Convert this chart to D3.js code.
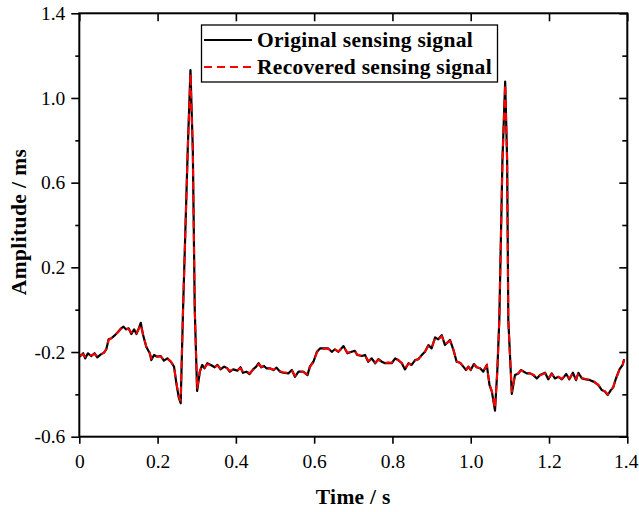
<!DOCTYPE html>
<html>
<head>
<meta charset="utf-8">
<script src="https://cdn.jsdelivr.net/npm/d3@7"></script>
<style>
  body { margin: 0; background: #fff; }
  svg text { font-family: "Liberation Serif", "DejaVu Serif", serif; fill: #000; }
</style>
</head>
<body>
<svg></svg>
<script>
// time stamps (s)
var times = [0.001, 0.010, 0.015, 0.022, 0.031, 0.039, 0.046, 0.055, 0.063, 0.069,
  0.075, 0.082, 0.089, 0.097, 0.107, 0.113, 0.119, 0.126, 0.133, 0.140,
  0.146, 0.152, 0.157, 0.163, 0.171, 0.180, 0.184, 0.191, 0.199, 0.208,
  0.216, 0.225, 0.234, 0.242, 0.248, 0.254, 0.259, 0.265, 0.277, 0.284,
  0.290, 0.295, 0.301, 0.308, 0.314, 0.320, 0.327, 0.336, 0.346, 0.353,
  0.361, 0.370, 0.378, 0.384, 0.393, 0.404, 0.412, 0.418, 0.427, 0.435,
  0.444, 0.452, 0.458, 0.465, 0.472, 0.478, 0.487, 0.496, 0.504, 0.513,
  0.521, 0.534, 0.543, 0.551, 0.560, 0.572, 0.583, 0.589, 0.598, 0.607,
  0.615, 0.623, 0.636, 0.645, 0.653, 0.662, 0.675, 0.685, 0.696, 0.704,
  0.710, 0.722, 0.730, 0.738, 0.747, 0.756, 0.764, 0.773, 0.781, 0.790,
  0.798, 0.807, 0.815, 0.824, 0.832, 0.841, 0.849, 0.858, 0.866, 0.875,
  0.883, 0.892, 0.900, 0.909, 0.917, 0.926, 0.934, 0.947, 0.956, 0.964,
  0.973, 0.981, 0.988, 0.994, 1.000, 1.008, 1.015, 1.024, 1.032, 1.041,
  1.048, 1.054, 1.062, 1.068, 1.073, 1.081, 1.088, 1.093, 1.096, 1.105,
  1.113, 1.122, 1.128, 1.136, 1.143, 1.152, 1.160, 1.169, 1.177, 1.190,
  1.198, 1.207, 1.215, 1.224, 1.233, 1.244, 1.252, 1.261, 1.269, 1.275,
  1.284, 1.295, 1.305, 1.315, 1.326, 1.335, 1.343, 1.350, 1.358, 1.364,
  1.371, 1.380, 1.388, 1.392];

// original sensing signal (ms)
var original = [-0.222, -0.206, -0.230, -0.206, -0.219, -0.206, -0.225, -0.211, -0.203, -0.187,
  -0.140, -0.135, -0.124, -0.109, -0.088, -0.080, -0.093, -0.088, -0.115, -0.093,
  -0.115, -0.088, -0.062, -0.120, -0.175, -0.206, -0.238, -0.214, -0.222, -0.219,
  -0.241, -0.230, -0.246, -0.269, -0.348, -0.414, -0.442, -0.002, 0.754, 1.132,
  0.754, -0.002, -0.384, -0.293, -0.261, -0.277, -0.253, -0.261, -0.272, -0.261,
  -0.282, -0.269, -0.277, -0.293, -0.282, -0.288, -0.272, -0.298, -0.293, -0.304,
  -0.282, -0.269, -0.253, -0.272, -0.266, -0.277, -0.277, -0.285, -0.274, -0.293,
  -0.298, -0.301, -0.285, -0.317, -0.293, -0.293, -0.309, -0.269, -0.246, -0.199,
  -0.183, -0.183, -0.183, -0.199, -0.187, -0.199, -0.172, -0.206, -0.199, -0.194,
  -0.214, -0.219, -0.214, -0.246, -0.230, -0.253, -0.234, -0.246, -0.253, -0.251,
  -0.253, -0.230, -0.238, -0.253, -0.282, -0.253, -0.261, -0.238, -0.234, -0.214,
  -0.199, -0.167, -0.183, -0.131, -0.140, -0.120, -0.167, -0.143, -0.191, -0.246,
  -0.251, -0.269, -0.285, -0.269, -0.285, -0.257, -0.272, -0.277, -0.293, -0.261,
  -0.356, -0.387, -0.477, -0.285, -0.049, 0.707, 1.077, 0.707, -0.049, -0.398,
  -0.309, -0.301, -0.285, -0.293, -0.301, -0.301, -0.309, -0.325, -0.309, -0.298,
  -0.329, -0.301, -0.325, -0.317, -0.329, -0.304, -0.329, -0.298, -0.333, -0.298,
  -0.325, -0.329, -0.333, -0.341, -0.356, -0.380, -0.387, -0.403, -0.380, -0.367,
  -0.325, -0.282, -0.261, -0.234];

// recovered sensing signal (ms)
var recovered = [-0.218, -0.210, -0.222, -0.210, -0.215, -0.210, -0.220, -0.211, -0.203, -0.185,
  -0.143, -0.135, -0.124, -0.110, -0.090, -0.085, -0.090, -0.092, -0.108, -0.098,
  -0.110, -0.090, -0.070, -0.118, -0.172, -0.205, -0.230, -0.216, -0.220, -0.221,
  -0.236, -0.232, -0.245, -0.268, -0.345, -0.410, -0.432, -0.005, 0.750, 1.115,
  0.750, -0.005, -0.375, -0.290, -0.265, -0.274, -0.258, -0.262, -0.270, -0.264,
  -0.278, -0.271, -0.277, -0.289, -0.283, -0.286, -0.276, -0.294, -0.292, -0.300,
  -0.285, -0.272, -0.258, -0.270, -0.267, -0.276, -0.278, -0.283, -0.277, -0.290,
  -0.296, -0.298, -0.288, -0.312, -0.295, -0.294, -0.305, -0.272, -0.248, -0.202,
  -0.186, -0.184, -0.185, -0.196, -0.189, -0.197, -0.176, -0.203, -0.199, -0.196,
  -0.212, -0.218, -0.216, -0.242, -0.232, -0.250, -0.237, -0.245, -0.251, -0.250,
  -0.251, -0.233, -0.239, -0.252, -0.276, -0.256, -0.259, -0.240, -0.234, -0.216,
  -0.200, -0.170, -0.180, -0.135, -0.140, -0.125, -0.162, -0.148, -0.190, -0.244,
  -0.252, -0.267, -0.282, -0.270, -0.283, -0.260, -0.271, -0.277, -0.290, -0.263,
  -0.352, -0.385, -0.468, -0.288, -0.052, 0.700, 1.065, 0.700, -0.052, -0.390,
  -0.310, -0.300, -0.287, -0.292, -0.300, -0.301, -0.307, -0.320, -0.310, -0.300,
  -0.325, -0.304, -0.322, -0.317, -0.326, -0.307, -0.325, -0.302, -0.328, -0.302,
  -0.322, -0.328, -0.332, -0.340, -0.355, -0.378, -0.386, -0.400, -0.381, -0.366,
  -0.326, -0.284, -0.262, -0.236];

var xTicks = [0, 0.2, 0.4, 0.6, 0.8, 1.0, 1.2, 1.4];
var xTickLabels = ["0", "0.2", "0.4", "0.6", "0.8", "1.0", "1.2", "1.4"];
var yTicks = [-0.6, -0.2, 0.2, 0.6, 1.0, 1.4];
var yTickLabels = ["-0.6", "-0.2", "0.2", "0.6", "1.0", "1.4"];
var yMinorTicks = [-0.4, 0.0, 0.4, 0.8, 1.2];

var seriesNames = ["Original sensing signal", "Recovered sensing signal"];

window.onload = function() {
  var svg = d3.select("svg")
    .attr("width", 639)
    .attr("height", 512);

  var left = 79.3, right = 627.3, top = 13.3, bottom = 436.7;

  var x = d3.scaleLinear().domain([0, 1.4]).range([left, right]);
  var y = d3.scaleLinear().domain([-0.6, 1.4]).range([bottom, top]);

  // lines
  var line = d3.line()
    .x(function(d) { return x(d[0]); })
    .y(function(d) { return y(d[1]); });

  var origData = times.map(function(t, i) { return [t, original[i]]; });
  var recData = times.map(function(t, i) { return [t, recovered[i]]; });

  svg.append("path")
    .datum(origData)
    .attr("d", line)
    .attr("fill", "none")
    .attr("stroke", "#000")
    .attr("stroke-width", 2.2)
    .attr("stroke-linejoin", "round");

  svg.append("path")
    .datum(recData)
    .attr("d", line)
    .attr("fill", "none")
    .attr("stroke", "#ff0000")
    .attr("stroke-width", 2)
    .attr("stroke-dasharray", "8,5");

  // axes (bottom & left ticks point out, top & right point in)
  var bottomAxis = d3.axisBottom(x).tickValues(xTicks).tickSize(7).tickPadding(10)
    .tickFormat(function(d, i) { return xTickLabels[i]; });
  var topAxis = d3.axisBottom(x).tickValues(xTicks).tickSize(8).tickFormat("");
  var leftAxis = d3.axisLeft(y).tickValues(yTicks).tickSize(8).tickPadding(6)
    .tickFormat(function(d, i) { return yTickLabels[i]; });
  var leftMinor = d3.axisLeft(y).tickValues(yMinorTicks).tickSize(4).tickFormat("");
  var rightAxis = d3.axisLeft(y).tickValues(yTicks).tickSize(8).tickFormat("");
  var rightMinor = d3.axisLeft(y).tickValues(yMinorTicks).tickSize(5).tickFormat("");

  var gb = svg.append("g").attr("transform", "translate(0," + bottom + ")").call(bottomAxis);
  svg.append("g").attr("transform", "translate(0," + top + ")").call(topAxis);
  svg.append("g").attr("transform", "translate(" + left + ",0)").call(leftAxis);
  svg.append("g").attr("transform", "translate(" + left + ",0)").call(leftMinor);
  svg.append("g").attr("transform", "translate(" + right + ",0)").call(rightAxis);
  svg.append("g").attr("transform", "translate(" + right + ",0)").call(rightMinor);

  svg.selectAll(".domain").remove();
  svg.selectAll(".tick line").attr("stroke", "#000").attr("stroke-width", 1.6);
  svg.selectAll(".tick text")
    .attr("font-family", "Liberation Serif, serif")
    .attr("font-size", 19.5)
    .attr("fill", "#000");
  // last x label sits right at the page edge, pull it in a bit
  gb.selectAll(".tick text").filter(function(d) { return d === 1.4; })
    .attr("dx", -1.5);

  // frame
  svg.append("rect")
    .attr("x", left)
    .attr("y", top)
    .attr("width", right - left)
    .attr("height", bottom - top)
    .attr("fill", "none")
    .attr("stroke", "#000")
    .attr("stroke-width", 2);

  // axis titles
  svg.append("text")
    .attr("x", (left + right) / 2)
    .attr("y", 504)
    .attr("text-anchor", "middle")
    .attr("font-size", 21.5)
    .attr("font-weight", "bold")
    .attr("letter-spacing", 0.3)
    .text("Time / s");

  svg.append("text")
    .attr("transform", "translate(26," + ((top + bottom) / 2 - 3) + ") rotate(-90)")
    .attr("text-anchor", "middle")
    .attr("font-size", 21.5)
    .attr("font-weight", "bold")
    .attr("letter-spacing", 0.4)
    .text("Amplitude / ms");

  // legend
  var legend = svg.append("g");
  legend.append("rect")
    .attr("x", 201.5)
    .attr("y", 25)
    .attr("width", 296)
    .attr("height", 57)
    .attr("fill", "#fff")
    .attr("stroke", "#000")
    .attr("stroke-width", 1.3);

  var rows = [40, 67];
  legend.append("line")
    .attr("x1", 204).attr("x2", 252)
    .attr("y1", rows[0]).attr("y2", rows[0])
    .attr("stroke", "#000").attr("stroke-width", 2);
  legend.append("line")
    .attr("x1", 204).attr("x2", 252)
    .attr("y1", rows[1]).attr("y2", rows[1])
    .attr("stroke", "#ff0000").attr("stroke-width", 2)
    .attr("stroke-dasharray", "8,5");

  legend.selectAll("text.leg")
    .data(seriesNames).enter()
    .append("text")
    .attr("class", "leg")
    .attr("x", 257)
    .attr("y", function(d, i) { return rows[i] + 7; })
    .attr("font-size", 21.5)
    .attr("font-weight", "bold")
    .attr("letter-spacing", 0.3)
    .text(function(d) { return d; });
};
</script>
</body>
</html>
